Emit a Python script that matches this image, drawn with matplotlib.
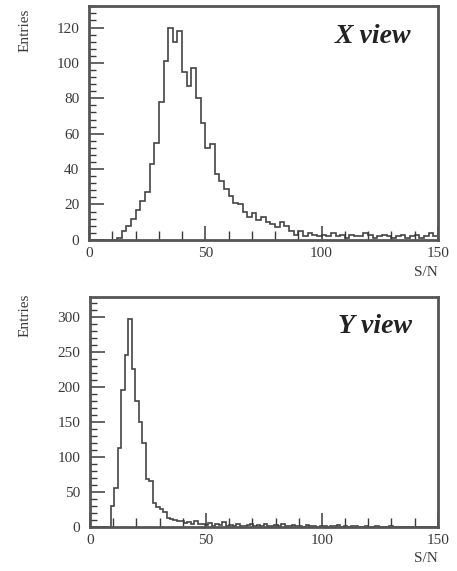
"""S/N distributions for the X and Y views (two stacked histograms)."""

import numpy as np
import matplotlib
matplotlib.use("Agg")
import matplotlib.pyplot as plt
from matplotlib.ticker import MultipleLocator

# -----------------------------------------------------------------------------
# Data
# -----------------------------------------------------------------------------
x_edges = np.arange(0, 152, 2.0)          # 75 bins of width 2
x_counts = [
    0, 0, 0, 0, 0, 0, 1, 5, 8, 12,
    17, 22, 27, 43, 55, 78, 101, 120, 112, 118,
    95, 87, 97, 80, 66, 52, 54, 37, 33, 29,
    25, 21, 20, 16, 13, 15, 11, 13, 10, 9,
    7, 10, 8, 5, 3, 5, 2, 4, 3, 2,
    3, 2, 4, 2, 3, 1, 3, 2, 2, 4,
    3, 1, 2, 3, 2, 1, 2, 3, 1, 2,
    3, 1, 2, 4, 2,
]

y_edges = np.arange(0, 151.5, 1.5)        # 100 bins of width 1.5
y_counts = [
    0, 0, 0, 0, 0, 0, 30, 55, 113, 195,
    245, 296, 225, 180, 150, 120, 68, 66, 34, 28,
    25, 22, 13, 12, 10, 8, 9, 6, 7, 5,
    8, 4, 5, 3, 6, 2, 4, 3, 7, 2,
    3, 2, 4, 1, 2, 3, 5, 1, 3, 2,
    4, 2, 1, 3, 2, 4, 1, 2, 3, 1,
    2, 0, 3, 1, 2, 0, 1, 2, 0, 1,
    1, 3, 0, 1, 0, 2, 1, 0, 0, 1,
    0, 0, 1, 0, 0, 0, 1, 0, 0, 0,
    0, 0, 0, 0, 0, 0, 0, 0, 0, 0,
]

panels = [
    dict(edges=x_edges, counts=x_counts, label="X view", ymax=132,
         ymajor=20, yminor=4, rect=[0.195, 0.580, 0.763, 0.409],
         entries_y=0.985, sn_y=0.522),
    dict(edges=y_edges, counts=y_counts, label="Y view", ymax=328,
         ymajor=50, yminor=10, rect=[0.197, 0.077, 0.761, 0.403],
         entries_y=0.485, sn_y=0.022),
]

# -----------------------------------------------------------------------------
# Plot
# -----------------------------------------------------------------------------
plt.rcParams["font.family"] = ["Liberation Serif", "DejaVu Serif"]
ink = "#3a3a3a"

fig = plt.figure(figsize=(4.57, 5.71), dpi=100)

for p in panels:
    ax = fig.add_axes(p["rect"])
    ax.stairs(p["counts"], p["edges"], color="#444444", lw=1.2)
    ax.set_xlim(0, 150)
    ax.set_ylim(0, p["ymax"])

    ax.xaxis.set_major_locator(MultipleLocator(50))
    ax.xaxis.set_minor_locator(MultipleLocator(10))
    ax.yaxis.set_major_locator(MultipleLocator(p["ymajor"]))
    ax.yaxis.set_minor_locator(MultipleLocator(p["yminor"]))
    ax.tick_params(axis="x", which="major", direction="in", length=10,
                   width=1.1, color=ink, labelsize=11, labelcolor=ink, pad=5)
    ax.tick_params(axis="x", which="minor", direction="in", length=6.5,
                   width=1.0, color=ink)
    ax.tick_params(axis="y", which="major", direction="in", length=11,
                   width=1.1, color=ink, labelsize=11, labelcolor=ink, pad=7)
    ax.tick_params(axis="y", which="minor", direction="in", length=5,
                   width=1.0, color=ink)
    for side in ax.spines.values():
        side.set_linewidth(2.0)
        side.set_color("#555555")

    ax.text(0.925, 0.87, p["label"], transform=ax.transAxes, ha="right",
            va="center", fontsize=20, fontweight="bold", fontstyle="italic",
            color="#222222")
    fig.text(0.055, p["entries_y"], "Entries", rotation=90, ha="center",
             va="top", fontsize=11, color=ink)
    fig.text(0.958, p["sn_y"], "S/N", ha="right", va="center",
             fontsize=11, color=ink)

fig.savefig("out.png", dpi=100)
